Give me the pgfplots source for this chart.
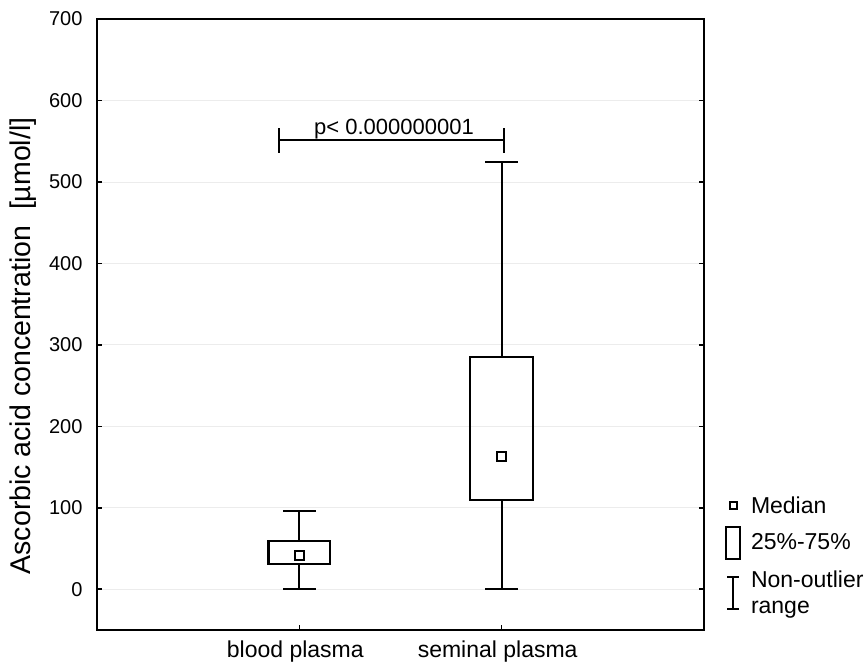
\documentclass[border=0pt]{standalone}
\usepackage{fontspec}
\setmainfont{Liberation Sans}
\usepackage{pgfplots}
\pgfplotsset{compat=1.18}
\usepgfplotslibrary{statistics}
\usetikzlibrary{calc}
\begin{document}
\begin{tikzpicture}
\begin{axis}[
  name=ax,
  scale only axis,
  width=607pt, height=611pt,
  xmin=0, xmax=3,
  ymin=-50, ymax=700,
  xtick={1,2},
  xticklabels={blood plasma, seminal plasma},
  ytick={0,100,...,700},
  xtick pos=left,
  ytick pos=both,
  tick align=inside,
  major tick length=5pt,
  every tick/.style={black, line width=1.6pt},
  axis line style={line width=2.6pt},
  ymajorgrids,
  major grid style={gray!15, line width=0.8pt},
  /pgf/number format/assume math mode=true,
  /pgf/number format/1000 sep={},
  yticklabel style={font=\fontsize{20}{23}\selectfont, xshift=-11pt},
  xticklabel style={font=\fontsize{23}{26}\selectfont, yshift=-7pt, xshift=-4pt},
  ylabel={Ascorbic acid concentration\ \ [µmol/l]},
  every axis y label/.style={at={(axis description cs:-0.122,0.465)}, rotate=90, anchor=center,
    font=\fontsize{28.5}{32}\selectfont},
  boxplot/draw direction=y,
  boxplot/every box/.style={line width=2.2pt},
  boxplot/every whisker/.style={line width=2.2pt},
  boxplot/draw/median/.code={%
    \node[draw, line width=2pt, minimum size=9pt, inner sep=0pt, fill=white]
      at (boxplot box cs:\pgfplotsboxplotvalue{median},0.5) {};},
  legend style={draw=none, fill=none, at={(rel axis cs:1,0.222)}, anchor=north west,
    xshift=21pt, font=\fontsize{23}{26}\selectfont, row sep=9pt,
    cells={align=left}, inner sep=0pt,
    /tikz/every odd column/.append style={column sep=8pt}},
  legend cell align=left,
  clip=false,
]
\addlegendimage{legend image code/.code={\draw[line width=1.8pt] (-3.5pt,-3.5pt) rectangle (3.5pt,3.5pt);}}
\addlegendentry{Median}
\addlegendimage{legend image code/.code={\draw[line width=1.8pt] (-7pt,-16pt) rectangle (7pt,16pt);}}
\addlegendentry{25\%-75\%}
\addlegendimage{legend image code/.code={\draw[line width=1.8pt] (0pt,-16pt) -- (0pt,16pt) (-6pt,-16pt) -- (6pt,-16pt) (-6pt,16pt) -- (6pt,16pt);}}
\addlegendentry{Non-outlier\\range}

\addplot[black, line width=2.2pt, solid, forget plot,
  boxplot prepared={draw position=1, lower whisker=0, lower quartile=31,
    median=42, upper quartile=59, upper whisker=96,
    box extend=0.305, whisker extend=0.16}] coordinates {};
\addplot[black, line width=2.2pt, solid, forget plot,
  boxplot prepared={draw position=2, lower whisker=0, lower quartile=110,
    median=163, upper quartile=285, upper whisker=524,
    box extend=0.31, whisker extend=0.16}] coordinates {};

\addplot[black, line width=2.2pt, forget plot] coordinates {(0.9,536) (0.9,566)};
\addplot[black, line width=2.2pt, forget plot] coordinates {(0.9,551) (2.01,551)};
\addplot[black, line width=2.2pt, forget plot] coordinates {(2.01,536) (2.01,566)};
\node[anchor=south, inner sep=1.5pt, font=\fontsize{22}{24}\selectfont] at (axis cs:1.468,551) {p< 0.000000001};
\end{axis}
\pgfresetboundingbox
\path ($(ax.south west)+(-97pt,-38pt)$) rectangle ($(ax.north east)+(161pt,19pt)$);
\end{tikzpicture}
\end{document}
